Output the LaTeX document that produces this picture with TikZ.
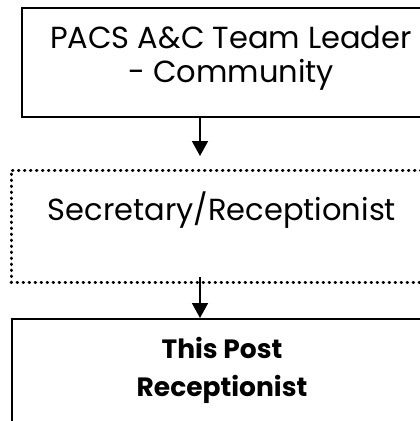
\documentclass[tikz,border=0pt]{standalone}
\usepackage{fontspec}
\setmainfont{Poppins}
\usetikzlibrary{positioning,arrows.meta}

\begin{document}
\begin{tikzpicture}[x=1pt,y=-1pt,
    postbox/.style={rectangle,draw,line width=1.8pt,inner sep=0pt},
    dotbox/.style={rectangle,draw,line width=3pt,dash pattern=on 0.6pt off 5.4pt,line cap=round,inner sep=0pt},
    arr/.style={line width=1.8pt,-{Triangle[width=16pt,length=15pt]}}]
    \useasboundingbox (0,0) rectangle (420,421);
    \clip (0,0) rectangle (420,421);

    % Team leader
    \node[postbox,minimum width=408pt,minimum height=109pt] (leader) at (226,62.5) {};
    \node[align=center,inner sep=0pt,font=\fontsize{30.5}{34}\selectfont,below=19pt of leader.north,xshift=5pt] (leadertxt) {PACS A\&C Team Leader\\- Community};

    % Secretary
    \node[dotbox,minimum width=422pt,minimum height=112pt] (sec) at (222,226) {};
    \node[inner sep=0pt,font=\fontsize{30.5}{36}\selectfont,below=23pt of sec.north] (sectxt) {Secretary/Receptionist};

    % This post
    \node[postbox,minimum width=420pt,minimum height=140pt,anchor=north] (post) at (222,318) {};
    \node[align=center,inner sep=0pt,font=\bfseries\fontsize{26.5}{38}\selectfont,below=19pt of post.north] (posttxt) {This Post\\Receptionist};

    % Arrows
    \coordinate (tip1) at (200,156);
    \coordinate (tail2) at (200,277);
    \draw[arr] (tip1 |- leader.south) -- (tip1);
    \draw[arr] (tail2) -- (tail2 |- post.north);
\end{tikzpicture}
\end{document}
